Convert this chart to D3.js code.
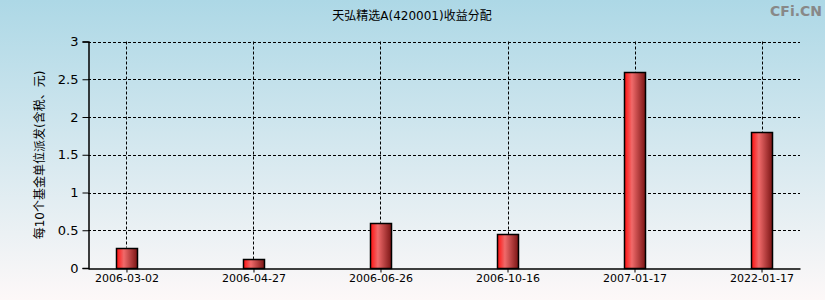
<!DOCTYPE html>
<html lang="en">
<head>
<meta charset="UTF-8">
<title>天弘精选A(420001)收益分配</title>
<script src="https://cdn.jsdelivr.net/npm/d3@7"></script>
<style>
  body { margin: 0; }
  svg text { font-family: "DejaVu Sans", "Noto Sans CJK SC", sans-serif; }
</style>
</head>
<body>
<script>
var dates = ["2006-03-02", "2006-04-27", "2006-06-26", "2006-10-16", "2007-01-17", "2022-01-17"];
var payouts = [0.27, 0.12, 0.6, 0.45, 2.6, 1.8];
var yTicks = [0, 0.5, 1, 1.5, 2, 2.5, 3];

var width = 825, height = 300;
var plotLeft = 88, plotRight = 800, plotTop = 41.5, plotBottom = 268;

var svg = d3.select("body").append("svg")
    .attr("width", width)
    .attr("height", height);

var defs = svg.append("defs");
var bg = defs.append("linearGradient").attr("id", "bg")
    .attr("x1", 0).attr("y1", 0).attr("x2", 0).attr("y2", 1);
bg.append("stop").attr("offset", "0%").attr("stop-color", "#add8e6");
bg.append("stop").attr("offset", "100%").attr("stop-color", "#fdf8f8");

var barFill = defs.append("linearGradient").attr("id", "barFill")
    .attr("x1", 0).attr("y1", 0).attr("x2", 1).attr("y2", 0);
barFill.append("stop").attr("offset", "0%").attr("stop-color", "#ff1010");
barFill.append("stop").attr("offset", "35%").attr("stop-color", "#f06a6a");
barFill.append("stop").attr("offset", "100%").attr("stop-color", "#7a1414");

svg.append("rect")
    .attr("width", width).attr("height", height)
    .attr("fill", "url(#bg)");

// title + watermark
svg.append("text")
    .attr("x", 412).attr("y", 20)
    .attr("text-anchor", "middle")
    .attr("font-size", 12)
    .attr("fill", "#000")
    .text("天弘精选A(420001)收益分配");

svg.append("text")
    .attr("x", 822).attr("y", 16)
    .attr("text-anchor", "end")
    .attr("font-size", 14)
    .attr("font-weight", "bold")
    .attr("fill", "#888")
    .text("CFi.CN");

var x = d3.scalePoint()
    .domain(dates)
    .range([plotLeft, plotRight])
    .padding(0.303);

var y = d3.scaleLinear()
    .domain([0, 3])
    .range([plotBottom, plotTop]);

// horizontal grid
svg.append("g")
    .selectAll("line")
    .data(yTicks.filter(function(d) { return d > 0; }))
    .enter().append("line")
    .attr("x1", plotLeft).attr("x2", plotRight)
    .attr("y1", function(d) { return Math.round(y(d)) + 0.5; })
    .attr("y2", function(d) { return Math.round(y(d)) + 0.5; })
    .attr("stroke", "#000")
    .attr("stroke-dasharray", "3,2");

// vertical grid (above the bars only)
svg.append("g")
    .selectAll("line")
    .data(dates)
    .enter().append("line")
    .attr("x1", function(d) { return Math.round(x(d)) + 0.5; })
    .attr("x2", function(d) { return Math.round(x(d)) + 0.5; })
    .attr("y1", plotTop)
    .attr("y2", function(d, i) { return y(payouts[i]); })
    .attr("stroke", "#000")
    .attr("stroke-dasharray", "3,2");

// bars
var barW = 21;
svg.append("g")
    .selectAll("rect")
    .data(dates)
    .enter().append("rect")
    .attr("x", function(d) { return Math.round(x(d) - barW / 2) + 0.5; })
    .attr("y", function(d, i) { return Math.round(y(payouts[i])) + 0.5; })
    .attr("width", barW)
    .attr("height", function(d, i) { return Math.round(plotBottom - y(payouts[i])); })
    .attr("fill", "url(#barFill)")
    .attr("stroke", "#000")
    .attr("stroke-width", 1.5);

// axes
var yAxis = d3.axisLeft(y)
    .tickValues(yTicks)
    .tickFormat(d3.format("~g"))
    .tickSize(6)
    .tickPadding(4);
var gy = svg.append("g")
    .attr("transform", "translate(" + (plotLeft + 0.5) + ",0)")
    .call(yAxis);
gy.select(".domain").attr("stroke", "#000").attr("stroke-width", 1.5);
gy.selectAll("text").attr("font-size", 13).attr("fill", "#000")
    .attr("font-family", "'Liberation Sans', Arial, sans-serif");

var xAxis = d3.axisBottom(x)
    .tickSize(4)
    .tickPadding(2)
    .tickSizeOuter(0);
var gx = svg.append("g")
    .attr("transform", "translate(0," + (plotBottom + 0.5) + ")")
    .call(xAxis);
gx.select(".domain").attr("stroke", "#000").attr("stroke-width", 1.5);
gx.selectAll("text").attr("font-size", 11).attr("fill", "#000")
    .attr("font-family", "'Liberation Sans', Arial, sans-serif");

// y axis label
svg.append("text")
    .attr("transform", "translate(44,155) rotate(-90)")
    .attr("text-anchor", "middle")
    .attr("font-size", 12)
    .attr("fill", "#000")
    .text("每10个基金单位派发(含税、元)");
</script>
</body>
</html>
